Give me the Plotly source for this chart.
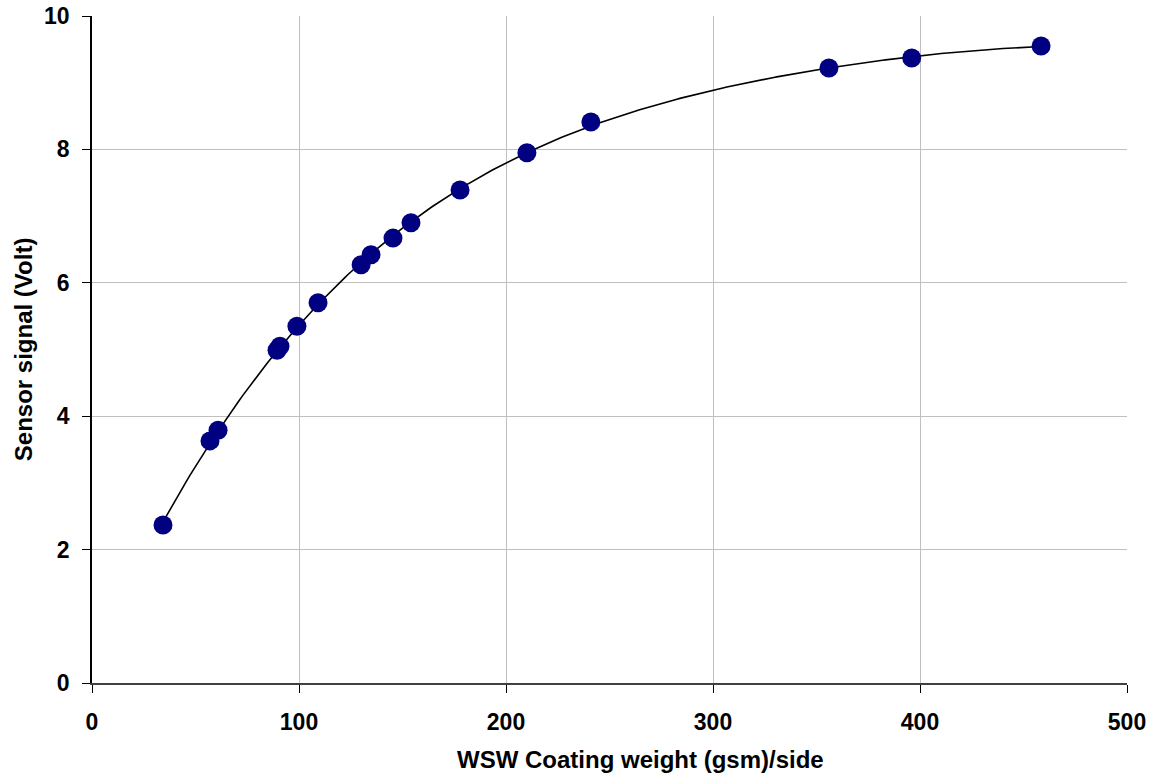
import numpy as np
import plotly.graph_objects as go

# Data
coating_weight = [34.3, 57.0, 60.9, 89.4, 90.8, 99.0, 109.2, 130.0, 134.8, 145.4,
                  154.1, 177.8, 210.1, 241.0, 356.0, 396.0, 458.5]
sensor_signal = [2.37, 3.63, 3.79, 4.99, 5.05, 5.35, 5.70, 6.27, 6.42, 6.67,
                 6.90, 7.39, 7.95, 8.41, 9.22, 9.37, 9.55]

x_ticks = [0, 100, 200, 300, 400, 500]
y_ticks = [0, 2, 4, 6, 8, 10]

FONT = "Liberation Sans, Arial, sans-serif"

# Polynomial trendline fitted to the data (as in the reference's trend curve)
coef = np.polyfit(coating_weight, sensor_signal, 4)
trend_x = np.linspace(min(coating_weight), max(coating_weight), 300)
trend_y = np.polyval(coef, trend_x)

fig = go.Figure()
fig.add_trace(go.Scatter(
    x=trend_x, y=trend_y, mode="lines",
    line=dict(color="black", width=1.6),
    hoverinfo="skip", showlegend=False))
fig.add_trace(go.Scatter(
    x=coating_weight, y=sensor_signal, mode="markers",
    marker=dict(color="#000080", size=19, line=dict(width=0)),
    showlegend=False))

tick_font = dict(family=FONT, size=23, color="black", weight="bold")

fig.update_layout(
    width=1157, height=780,
    margin=dict(l=92, r=30, t=16, b=97, autoexpand=False),
    paper_bgcolor="white", plot_bgcolor="white",
    font=dict(family=FONT, size=23, color="black"),
    xaxis=dict(range=[0, 500], tickvals=x_ticks, ticktext=[str(v) for v in x_ticks],
               showgrid=True, gridcolor="#c0c0c0", gridwidth=1, automargin=False,
               zeroline=False, showline=True, linecolor="#404040", linewidth=2,
               ticks="outside", ticklen=8, tickcolor="#000000", tickwidth=1,
               ticklabelstandoff=9, tickfont=tick_font),
    yaxis=dict(range=[0, 10], tickvals=y_ticks, ticktext=[str(v) for v in y_ticks],
               showgrid=True, gridcolor="#c0c0c0", gridwidth=1, automargin=False,
               zeroline=False, showline=True, linecolor="#000000", linewidth=1.5,
               ticks="outside", ticklen=8, tickcolor="#000000", tickwidth=1,
               ticklabelstandoff=8, tickfont=tick_font),
    annotations=[
        dict(text="WSW Coating weight (gsm)/side", xref="paper", yref="paper",
             x=0.530, y=-0.115, xanchor="center", yanchor="middle", showarrow=False,
             font=dict(family=FONT, size=24, color="black", weight="bold")),
        dict(text="Sensor signal (Volt)", xref="paper", yref="paper",
             x=-0.066, y=0.5, xanchor="center", yanchor="middle", textangle=-90,
             showarrow=False, font=dict(family=FONT, size=24, color="black", weight="bold")),
    ],
)

fig.write_html("out.html")
